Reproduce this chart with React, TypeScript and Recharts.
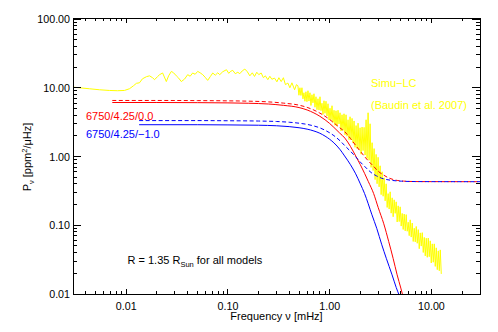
import React from 'react';
import { LineChart, Line, XAxis, YAxis } from 'recharts';

// plot frame in page pixels
const PLOT = { left: 73, top: 19, right: 480, bottom: 294 };
const FONT = '"Liberation Sans", Arial, Helvetica, sans-serif';

const xTicks = [
  0.004, 0.005, 0.006, 0.007, 0.008, 0.009, 0.01, 0.02, 0.03, 0.04, 0.05, 0.06, 0.07, 0.08, 0.09,
  0.1, 0.2, 0.3, 0.4, 0.5, 0.6, 0.7, 0.8, 0.9, 1, 2, 3, 4, 5, 6, 7, 8, 9, 10, 20,
];
const yTicks = [
  0.01, 0.02, 0.03, 0.04, 0.05, 0.06, 0.07, 0.08, 0.09, 0.1, 0.2, 0.3, 0.4, 0.5, 0.6, 0.7, 0.8, 0.9,
  1, 2, 3, 4, 5, 6, 7, 8, 9, 10, 20, 30, 40, 50, 60, 70, 80, 90, 100,
];

// Simu-LC (Baudin et al. 2007): low, mid and high frequency parts
const simuFreqLow = [
  0.003, 0.00347, 0.00435, 0.00545, 0.00684, 0.0082, 0.0096, 0.01076, 0.0118, 0.0126,
  0.0135, 0.01445, 0.01584, 0.01695, 0.01815, 0.019, 0.0203, 0.0213, 0.0228, 0.0248,
  0.0261, 0.0278, 0.0292, 0.0311, 0.0328, 0.0348, 0.0375, 0.0402, 0.0425, 0.045,
  0.0476, 0.0504, 0.0533, 0.0565, 0.0597, 0.0632, 0.067, 0.0709, 0.075, 0.0794,
  0.083, 0.0889, 0.0967, 0.1018, 0.1066, 0.1115, 0.118, 0.125, 0.1306, 0.1383,
  0.1465, 0.155, 0.164, 0.1735, 0.1824, 0.192, 0.201, 0.212, 0.223, 0.233,
  0.2466, 0.258, 0.27, 0.287, 0.3027, 0.3165, 0.3337, 0.3507, 0.367, 0.388,
  0.406, 0.4253, 0.452, 0.471,
];
const simuPowLow = [
  10.2, 10.0, 9.67, 9.35, 9.13, 9.05, 9.13, 9.67, 10.7, 11.6,
  11.8, 13.5, 14.5, 14.9, 14.0, 13.1, 14.5, 15.5, 16.4, 12.3,
  14.9, 17.3, 16.5, 14.9, 13.8, 12.3, 13.4, 15.5, 14.7, 16.4,
  15.7, 17.3, 16.5, 15.5, 14.2, 12.8, 14.5, 16.4, 15.2, 16.5,
  15.5, 17.1, 18.3, 16.2, 17.4, 17.9, 16.0, 16.8, 16.0, 17.6,
  18.7, 17.1, 14.9, 16.5, 14.6, 16.8, 15.5, 16.4, 14.0, 14.9,
  13.1, 14.7, 13.3, 13.8, 12.2, 14.0, 12.3, 14.0, 11.1, 11.7,
  10.0, 11.8, 9.35, 11.1,
];
const simuFreqMid = [
  0.4872, 0.4984, 0.5098, 0.5215, 0.5335, 0.5458, 0.5583, 0.5711, 0.5842, 0.5976,
  0.6113, 0.6254, 0.6397, 0.6544, 0.6694, 0.6848, 0.7005, 0.7166, 0.733, 0.7499,
  0.7671, 0.7847, 0.8027, 0.8211, 0.8399, 0.8592, 0.8789, 0.899, 0.9196, 0.9406,
  0.9622, 0.9842, 1.0068, 1.0299, 1.0535, 1.0777, 1.1024, 1.1276, 1.1535, 1.18,
  1.207, 1.2347, 1.263, 1.292, 1.3216, 1.3519, 1.3829, 1.4146, 1.4471, 1.4803,
  1.5142, 1.549, 1.5849, 1.6212, 1.6584, 1.6964, 1.7353, 1.7751, 1.8158, 1.8575,
  1.9001, 1.9436, 1.9882, 2.0338, 2.0805, 2.1282, 2.177, 2.2269, 2.278, 2.3302,
  2.3837, 2.4383, 2.4943, 2.5515, 2.61, 2.6699, 2.7311, 2.7937, 2.8578, 2.9233,
  2.9904, 3.059,
];
const simuPowMid = [
  10.69, 7.779, 10.0, 7.727, 10.0, 6.893, 8.456, 6.362, 8.745, 6.277,
  9.045, 6.404, 8.456, 5.525, 7.91, 6.029, 8.178, 5.203, 7.396, 4.8,
  6.917, 4.736, 7.396, 4.642, 5.949, 4.088, 6.469, 4.254, 6.362, 3.873,
  5.849, 3.41, 5.031, 3.433, 5.47, 3.125, 4.704, 2.845, 4.626, 2.77,
  4.704, 2.982, 4.326, 2.35, 4.046, 2.398, 4.183, 2.07, 4.046, 1.975,
  3.422, 1.762, 3.784, 1.745, 3.585, 1.567, 3.286, 1.361, 2.817, 1.307,
  3.053, 1.256, 2.617, 1.08, 2.679, 1.219, 2.652, 1.051, 3.422, 0.938,
  4.326, 0.8835, 2.992, 0.6941, 1.588, 0.6255, 1.303, 0.4611, 1.073, 0.4019,
  0.9736, 0.3622,
];
const simuFreqHigh = [
  3.13, 3.202, 3.276, 3.351, 3.428, 3.507, 3.587, 3.67, 3.754, 3.84,
  3.928, 4.018, 4.11, 4.205, 4.301, 4.4, 4.501, 4.604, 4.71, 4.818,
  4.928, 5.042, 5.157, 5.276, 5.397, 5.521, 5.648, 5.777, 5.91, 6.046,
  6.184, 6.326, 6.472, 6.62, 6.772, 6.928, 7.087, 7.249, 7.416, 7.586,
  7.76, 7.938, 8.121, 8.307, 8.498, 8.693, 8.892, 9.097, 9.3, 9.513,
  9.732, 9.955, 10.18, 10.42, 10.66, 10.9, 11.15, 11.41, 11.67, 11.94,
  12.21, 12.49,
];
const simuPowHigh = [
  0.7322, 0.2789, 0.5989, 0.2643, 0.4897, 0.2265, 0.4005, 0.1816, 0.2884, 0.1721,
  0.3063, 0.15, 0.2505, 0.133, 0.2343, 0.149, 0.2191, 0.1117, 0.1916, 0.1132,
  0.1853, 0.0973, 0.1485, 0.0869, 0.1455, 0.0829, 0.1426, 0.0818, 0.1106, 0.0706,
  0.1199, 0.0673, 0.1076, 0.0581, 0.0904, 0.0573, 0.096, 0.0547, 0.0863, 0.0456,
  0.0775, 0.0498, 0.078, 0.0402, 0.0665, 0.0359, 0.0647, 0.0342, 0.0651, 0.0349,
  0.0593, 0.0283, 0.0536, 0.029, 0.0536, 0.0252, 0.0469, 0.0226, 0.0424, 0.0218,
  0.0438, 0.0196,
];

// model 6750/4.25/0.0
const redFreq = [
  0.0073, 0.02, 0.05, 0.1, 0.16, 0.25, 0.35, 0.5, 0.6, 0.7, 0.8, 0.9, 1.0, 1.1, 1.25,
  1.41, 1.6, 1.8, 2.0, 2.2, 2.4, 2.7, 3.0, 3.4, 3.8, 4.2, 4.6, 5.0, 5.3,
];
const redSolid = [
  6.1, 6.1, 6.07, 6.02, 5.95, 5.8, 5.55, 5.15, 4.75, 4.3, 3.85, 3.42, 3.02, 2.65, 2.2,
  1.85, 1.4, 1.02, 0.76, 0.57, 0.43, 0.29, 0.18, 0.105, 0.058, 0.033, 0.019, 0.0122, 0.0088,
];
const redDashFreq = [...redFreq, 7, 10, 30];
const redDash = [
  6.53, 6.53, 6.5, 6.45, 6.38, 6.23, 5.98, 5.58, 5.18, 4.73, 4.28, 3.85, 3.45, 3.08, 2.63,
  2.28, 1.83, 1.45, 1.19, 1.0, 0.86, 0.72, 0.61, 0.535, 0.488, 0.463, 0.449, 0.4422, 0.4388,
  0.432, 0.431, 0.43,
];

// model 6750/4.25/-1.0
const blueFreq = [
  0.0134, 0.05, 0.1, 0.2, 0.3, 0.4, 0.5, 0.6, 0.7, 0.8, 0.9, 1.0, 1.1, 1.27, 1.4,
  1.6, 1.8, 2.0, 2.2, 2.6, 2.9, 3.25, 3.6, 4.1, 4.5, 4.8, 5.1,
];
const blueSolid = [
  2.9, 2.9, 2.88, 2.85, 2.8, 2.72, 2.62, 2.5, 2.35, 2.18, 1.98, 1.78, 1.58, 1.25, 1.02,
  0.76, 0.56, 0.4, 0.29, 0.142, 0.09, 0.052, 0.033, 0.019, 0.0125, 0.0097, 0.0075,
];
const blueDashFreq = [...blueFreq, 7, 10, 30];
const blueDash = [
  3.33, 3.33, 3.31, 3.28, 3.23, 3.15, 3.05, 2.93, 2.78, 2.61, 2.41, 2.21, 2.01, 1.68, 1.45,
  1.19, 0.99, 0.83, 0.72, 0.572, 0.52, 0.482, 0.463, 0.449, 0.4425, 0.4397, 0.4375,
  0.432, 0.431, 0.43,
];

const pts = (f: number[], v: number[]) => f.map((x, i) => ({ f: x, v: v[i] }));

const simuData = pts(
  [...simuFreqLow, ...simuFreqMid, ...simuFreqHigh],
  [...simuPowLow, ...simuPowMid, ...simuPowHigh],
);

const isMajor = (v: number) => Math.abs(Math.log10(v) - Math.round(Math.log10(v))) < 1e-6;
const crisp = (n: number) => Math.floor(n) + 0.5;

const BottomTick = (props: any) => {
  const { x, payload } = props;
  const v = payload.value;
  const major = isMajor(v);
  const cx = crisp(x);
  return (
    <g>
      <line x1={cx} x2={cx} y1={PLOT.bottom} y2={PLOT.bottom - (major ? 5 : 3)} stroke="#000" />
      {major && (
        <text x={x} y={310} textAnchor="middle" fontSize={10.7} fontFamily={FONT} fill="#000">
          {v.toFixed(2)}
        </text>
      )}
    </g>
  );
};

const TopTick = (props: any) => {
  const { x, payload } = props;
  const cx = crisp(x);
  return <line x1={cx} x2={cx} y1={18} y2={18 + (isMajor(payload.value) ? 5 : 3)} stroke="#000" />;
};

const LeftTick = (props: any) => {
  const { y, payload } = props;
  const v = payload.value;
  const major = isMajor(v);
  const cy = crisp(y);
  return (
    <g>
      <line x1={PLOT.left} x2={PLOT.left + (major ? 8 : 4)} y1={cy} y2={cy} stroke="#000" />
      {major && (
        <text x={70} y={y + 4} textAnchor="end" fontSize={10.7} fontFamily={FONT} fill="#000">
          {v.toFixed(2)}
        </text>
      )}
    </g>
  );
};

const RightTick = (props: any) => {
  const { y, payload } = props;
  const cy = crisp(y);
  return (
    <line x1={PLOT.right} x2={PLOT.right - (isMajor(payload.value) ? 8 : 4)} y1={cy} y2={cy} stroke="#000" />
  );
};

export default function App() {
  const axisCommon = {
    type: 'number' as const,
    scale: 'log' as const,
    allowDataOverflow: true,
    interval: 0 as const,
    tickLine: false,
    axisLine: false,
    tickSize: 0,
    tickMargin: 0,
  };
  return (
    <div style={{ position: 'relative', width: 498, height: 332 }}>
      <style>{'body{margin:0}'}</style>
      <LineChart width={498} height={332} margin={{ top: 0, right: 0, bottom: 0, left: 0 }}>
        <XAxis {...axisCommon} xAxisId="b" dataKey="f" domain={[0.003, 30]} ticks={xTicks} height={38} tick={BottomTick} />
        <XAxis {...axisCommon} xAxisId="t" orientation="top" dataKey="f" domain={[0.003, 30]} ticks={xTicks} height={19} tick={TopTick} />
        <YAxis {...axisCommon} yAxisId="l" domain={[0.01, 100]} ticks={yTicks} width={73} tick={LeftTick} />
        <YAxis {...axisCommon} yAxisId="r" orientation="right" domain={[0.01, 100]} ticks={yTicks} width={18} tick={RightTick} />
        <Line xAxisId="t" yAxisId="r" data={pts(redDashFreq, redDash)} dataKey="v" stroke="none" dot={false} isAnimationActive={false} />
        <Line xAxisId="b" yAxisId="l" data={simuData} dataKey="v" type="linear" stroke="#ffff00" strokeWidth={1} dot={false} isAnimationActive={false} />
        <Line xAxisId="b" yAxisId="l" data={pts(redFreq, redSolid)} dataKey="v" type="monotone" stroke="#ff0000" strokeWidth={1} dot={false} isAnimationActive={false} />
        <Line xAxisId="b" yAxisId="l" data={pts(redDashFreq, redDash)} dataKey="v" type="monotone" stroke="#ff0000" strokeWidth={1} strokeDasharray="4 2.5" dot={false} isAnimationActive={false} />
        <Line xAxisId="b" yAxisId="l" data={pts(blueFreq, blueSolid)} dataKey="v" type="monotone" stroke="#0000ff" strokeWidth={1} dot={false} isAnimationActive={false} />
        <Line xAxisId="b" yAxisId="l" data={pts(blueDashFreq, blueDash)} dataKey="v" type="monotone" stroke="#0000ff" strokeWidth={1} strokeDasharray="4 2.5" dot={false} isAnimationActive={false} />
      </LineChart>
      <svg width={498} height={332} style={{ position: 'absolute', left: 0, top: 0, pointerEvents: 'none' }} fontFamily={FONT} fontSize={11}>
        <rect x={73.5} y={18.5} width={407} height={276} fill="none" stroke="#000" strokeWidth={1} />
        <text x={276.5} y={320} textAnchor="middle" fill="#000">Frequency ν [mHz]</text>
        <text transform="translate(31,157) rotate(-90)" textAnchor="middle" fill="#000">
          P<tspan fontSize={7.5} dy={3}>ν</tspan>
          <tspan dy={-3}> [ppm</tspan>
          <tspan fontSize={7.5} dy={-4}>2</tspan>
          <tspan dy={4}>/μHz]</tspan>
        </text>
        <text x={371} y={87} fill="#ffff00">Simu−LC</text>
        <text x={371} y={108.5} fill="#ffff00">(Baudin et al. 2007)</text>
        <text x={86} y={119.5} fill="#ff0000">6750/4.25/0.0</text>
        <text x={86} y={137.5} fill="#0000ff">6750/4.25/−1.0</text>
        <text x={127.5} y={263.5} fill="#000">
          R = 1.35 R<tspan fontSize={7.5} dy={3}>Sun</tspan>
          <tspan dy={-3}> for all models</tspan>
        </text>
      </svg>
    </div>
  );
}
